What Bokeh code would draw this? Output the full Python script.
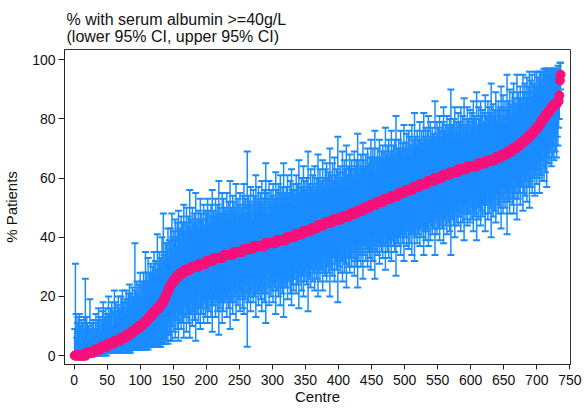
import numpy as np
from bokeh.plotting import figure
from bokeh.models import ColumnDataSource, Whisker, TeeHead, Range1d, FixedTicker, Title
from bokeh.embed import file_html
from bokeh.resources import INLINE

title_line1 = "% with serum albumin >=40g/L"
title_line2 = "(lower 95% CI, upper 95% CI)"
x_label = "Centre"
y_label = "% Patients"
x_ticks = [0, 50, 100, 150, 200, 250, 300, 350, 400, 450, 500, 550, 600, 650, 700, 750]
y_ticks = [0, 20, 40, 60, 80, 100]

# % of patients per centre (centres sorted by value)
pct = [
    0,0,0,0,0, 0,0,0,0,0, 0,0,0,0,0, 0,0,0,
    1,1,1,1,1, 1,1,1,1,1, 1,1,
    2,2,2,2,2, 2,2,2,2,2,
    3,3,3,3,3, 3,3,3,3,3,
    4,4,4,4,4, 4,4,4,4,4,
    5,5,5,5,5, 5,5,5,5,5,
    6,6,6,6,6, 6,6,6,
    7,7,7,7,7, 7,7,
    8,8,8,8,8, 8,
    9,9,9,9,9, 9,
    10,10,10,10,10, 10,
    11,11,11,11,11,
    12,12,12,12,
    13,13,13,13,
    14,14,14,14,
    15,15,15,15,
    16,16,16,16,16,
    17,17,17,
    18,18,18,
    19,19, 20,20, 21,21, 22,22, 23,23,
    24,24,24, 25,25,25,
    26,26,26,26,
    27,27,27,27,27,
    28,28,28,28,28, 28,
    29,29,29,29,29, 29,29,29,29,29,
    30,30,30,30,30, 30,30,30,30,30, 30,30,
    31,31,31,31,31, 31,31,31,31,31, 31,
    32,32,32,32,32, 32,32,32,32,32, 32,
    33,33,33,33,33, 33,33,33,33,33, 33,33,33,33,33,
    34,34,34,34,34, 34,34,34,34,34, 34,34,34,34,34,
    35,35,35,35,35, 35,35,35,35,35, 35,35,35,35,35,
    36,36,36,36,36, 36,36,36,36,36, 36,36,36,36,36,
    37,37,37,37,37, 37,37,37,37,37, 37,37,37,37,37, 37,37,37,
    38,38,38,38,38, 38,38,38,38,38, 38,38,38,38,38, 38,38,
    39,39,39,39,39, 39,39,39,39,39, 39,39,39,39,39,
    40,40,40,40,40, 40,40,40,40,40, 40,40,40,
    41,41,41,41,41, 41,41,41,41,41, 41,41,
    42,42,42,42,42, 42,42,42,42,42, 42,42,
    43,43,43,43,43, 43,43,43,43,43,
    44,44,44,44,44, 44,44,44,44,44, 44,
    45,45,45,45,45, 45,45,45,45,45, 45,45,
    46,46,46,46,46, 46,46,46,46,46, 46,46,46,46,
    47,47,47,47,47, 47,47,47,47,47, 47,47,
    48,48,48,48,48, 48,48,48,48,48, 48,
    49,49,49,49,49, 49,49,49,49,49,
    50,50,50,50,50, 50,50,50,50,50,
    51,51,51,51,51, 51,51,51,51,51,
    52,52,52,52,52, 52,52,52,52,52, 52,
    53,53,53,53,53, 53,53,53,53,53, 53,
    54,54,54,54,54, 54,54,54,54,54, 54,
    55,55,55,55,55, 55,55,55,55,55,
    56,56,56,56,56, 56,56,56,56,56, 56,56,
    57,57,57,57,57, 57,57,57,57,57,
    58,58,58,58,58, 58,58,58,58,58, 58,
    59,59,59,59,59, 59,59,59,59,59, 59,
    60,60,60,60,60, 60,60,60,60,60, 60,60,
    61,61,61,61,61, 61,61,61,61,61, 61,61,
    62,62,62,62,62, 62,62,62,62,62, 62,62,
    63,63,63,63,63, 63,63,63,63,63, 63,63,63,63,
    64,64,64,64,64, 64,64,64,64,64, 64,64,64,64,64, 64,
    65,65,65,65,65, 65,65,65,65,65, 65,65,65,
    66,66,66,66,66, 66,66,66,66,66, 66,66,66,
    67,67,67,67,67, 67,67,67,67,67,
    68,68,68,68,68, 68,68,68,68,
    69,69,69,69,69, 69,69,
    70,70,70,70,70, 70,70,
    71,71,71,71,71, 71,
    72,72,72,72,72,
    73,73,73,73,73,
    74,74,74,74,74,
    75,75,75,75, 76,76,76,76, 77,77,77,77,
    78,78,78, 79,79,79, 80,80,80, 81,81,81,
    82,82,82,82,
    83,83,83,
    84,84,84,84,
    85,85,85,85,85,
    86,86,86,
    88, 93, 95,
]

# length of each centre's CI bar above the point (upper 95% CI - %)
ci_up = [
    9,31,14,6,11, 13,8,14,10,5, 12,9,11,7,13, 8,26,6,12,10,
    7,9,5,18,8, 6,10,7,11,8, 5,9,12,7,6, 10,14,8,11,6,
    9,7,12,15,8, 10,6,13,9,11, 7,16,8,10,12, 9,14,6,11,8,
    17,10,13,9,7, 12,15,8,11,10, 14,9,16,7,12, 10,13,8,15,11,
    9,14,12,17,10, 13,8,15,11,12, 10,29,13,9,16, 12,11,14,10,18,
    13,9,15,12,17, 11,14,24,10,16, 13,21,12,15,11, 18,14,10,16,13,
    20,12,17,14,11, 25,15,13,19,12, 16,14,22,11,30, 15,13,18,12,17,
    14,21,11,16,13, 19,12,24,15,10, 17,13,20,14,11, 18,15,22,12,16,
    13,19,11,17,14, 23,12,16,10,21, 15,13,18,11,27, 14,16,12,20,15,
    11,18,14,25,13, 16,12,19,15,10, 22,14,17,12,15, 20,13,11,18,16,
    14,21,12,17,13, 10,19,15,24,12, 16,14,11,20,15, 13,18,12,26,14,
    17,11,15,22,13, 19,12,16,14,10, 21,15,13,18,12, 25,14,16,11,20,
    13,17,12,15,23, 14,10,18,16,12, 20,13,15,11,19, 14,22,12,17,15,
    11,33,14,18,12, 16,21,13,15,10, 19,14,17,12,24, 13,16,11,20,15,
    12,18,14,22,13, 16,11,19,15,27, 12,17,14,10,21, 15,13,18,12,16,
    20,13,15,11,24, 14,17,12,19,16, 13,22,11,15,18, 12,26,14,16,13,
    17,11,21,14,15, 12,19,13,23,16, 10,18,14,15,12, 20,13,17,11,25,
    14,16,12,19,13, 15,22,11,17,14, 13,18,12,27,15, 16,11,20,14,13,
    18,12,15,21,14, 11,17,13,24,16, 12,19,14,15,11, 22,13,16,12,18,
    14,20,11,15,17, 13,25,12,16,14, 19,13,11,21,15, 12,17,14,28,13,
    16,12,18,14,11, 22,15,13,19,12, 16,24,14,11,17, 13,20,15,12,18,
    13,15,11,21,16, 12,18,14,26,13, 17,11,15,19,12, 14,23,16,13,10,
    18,14,12,20,15, 13,17,11,22,16, 12,19,14,15,25, 11,16,13,18,14,
    12,21,15,13,17, 11,19,14,16,12, 24,13,15,18,11, 20,14,12,16,22,
    15,13,17,11,19, 14,27,12,16,13, 18,15,11,21,14, 12,17,13,23,15,
    11,16,19,13,14, 20,12,18,15,11, 22,14,16,13,25, 12,17,14,19,12,
    16,13,21,15,11, 18,14,12,24,16, 13,19,15,11,17, 22,13,14,20,12,
    15,18,11,16,13, 26,14,12,19,15, 17,11,21,13,16, 14,18,12,23,15,
    13,17,11,20,14, 16,12,19,15,28, 13,16,11,18,14, 22,12,15,17,13,
    19,12,16,14,21, 11,15,18,13,24, 14,12,17,15,20, 13,16,11,19,14,
    12,18,15,22,13, 17,11,16,25,14, 12,19,15,13,21, 16,11,18,14,12,
    17,23,13,15,11, 20,14,18,12,16, 26,13,15,19,11, 17,14,22,12,16,
    14,19,11,17,13, 24,15,12,20,16, 13,18,11,15,27, 14,17,12,21,13,
    16,12,19,14,22, 11,17,15,13,24, 14,18,12,16,20, 13,15,11,23,17,
    12,19,14,16,21, 13,17,11,22,15, 18,12,20,14,16, 13,20,15,11,19,
    14,17,12,18,15, 17,13,17,11,16, 17,14,16,12,15, 15,15,13,14,14,
    12,13,12,13,11, 12,10,12,11,12, 11,12,9,8,6, 4,
]

# length of each centre's CI bar below the point (% - lower 95% CI)
ci_down = [
    0,0,0,0,0, 0,0,0,0,0, 0,0,0,0,0, 0,0,0,1,1,
    1,1,1,1,1, 1,1,1,1,1, 2,1,2,1,2, 1,2,1,2,1,
    2,2,3,2,2, 3,2,2,3,2, 3,3,2,3,3, 3,2,3,3,3,
    4,4,4,4,4, 4,4,4,4,4, 5,5,5,5,5, 5,5,5,6,6,
    6,6,6,6,6, 6,6,6,6,6, 6,7,7,7,7, 7,7,8,8,8,
    7,6,8,8,9, 7,9,9,8,10, 9,10,10,8,10, 9,11,8,11,10,
    12,11,12,11,11, 13,13,12,13,12, 14,13,14,11,14, 15,13,16,12,16,
    14,18,11,16,13, 19,12,19,15,10, 17,13,20,14,11, 18,15,22,12,16,
    13,19,11,17,14, 22,12,16,10,21, 15,13,18,11,23, 14,16,12,20,15,
    11,18,14,25,13, 16,12,19,15,10, 22,14,17,12,15, 20,13,11,18,16,
    14,21,12,17,13, 10,19,15,24,12, 16,14,11,20,15, 13,18,12,26,14,
    17,11,15,22,13, 19,12,16,14,10, 21,15,13,18,12, 25,14,16,11,20,
    13,17,12,15,23, 14,10,18,16,12, 20,13,15,11,19, 14,22,12,17,15,
    11,33,14,18,12, 16,21,13,15,10, 19,14,17,12,24, 13,16,11,20,15,
    12,18,14,22,13, 16,11,19,15,27, 12,17,14,10,21, 15,13,18,12,16,
    20,13,15,11,24, 14,17,12,19,16, 13,22,11,15,18, 12,26,14,16,13,
    17,11,21,14,15, 12,19,13,23,16, 10,18,14,15,12, 20,13,17,11,25,
    14,16,12,19,13, 15,22,11,17,14, 13,18,12,27,15, 16,11,20,14,13,
    18,12,15,21,14, 11,17,13,24,16, 12,19,14,15,11, 22,13,16,12,18,
    14,20,11,15,17, 13,25,12,16,14, 19,13,11,21,15, 12,17,14,28,13,
    16,12,18,14,11, 22,15,13,19,12, 16,24,14,11,17, 13,20,15,12,18,
    13,15,11,21,16, 12,18,14,26,13, 17,11,15,19,12, 14,23,16,13,10,
    18,14,12,20,15, 13,17,11,22,16, 12,19,14,15,25, 11,16,13,18,14,
    12,21,15,13,17, 11,19,14,16,12, 24,13,15,18,11, 20,14,12,16,22,
    15,13,17,11,19, 14,27,12,16,13, 18,15,11,21,14, 12,17,13,23,15,
    11,16,19,13,14, 20,12,18,15,11, 22,14,16,13,25, 12,17,14,19,12,
    16,13,21,15,11, 18,14,12,24,16, 13,19,15,11,17, 22,13,14,20,12,
    15,18,11,16,13, 26,14,12,19,15, 17,11,21,13,16, 14,18,12,23,15,
    13,17,11,20,14, 16,12,19,15,28, 13,16,11,18,14, 22,12,15,17,13,
    19,12,16,14,21, 11,15,18,13,24, 14,12,17,15,20, 13,16,11,19,14,
    12,18,15,22,13, 17,11,16,25,14, 12,19,15,13,21, 16,11,18,14,12,
    17,23,13,15,11, 20,14,18,12,16, 26,13,15,19,11, 17,14,22,12,16,
    14,19,11,17,13, 24,15,12,20,16, 13,18,11,15,27, 14,17,12,21,13,
    16,12,19,14,22, 11,17,15,13,25, 14,18,12,16,20, 13,15,11,23,17,
    12,19,14,16,21, 13,17,11,24,15, 18,12,20,14,16, 13,22,15,11,19,
    14,17,12,23,15, 18,13,20,11,16, 21,14,19,12,25, 15,17,13,18,14,
    12,20,15,17,13, 19,11,16,14,18, 12,15,9,8,6, 5,
]

n = min(len(pct), len(ci_up), len(ci_down))
pct_a = np.array(pct[:n], dtype=float)
centre = np.arange(1, n + 1)
lower = np.clip(pct_a - np.array(ci_down[:n], dtype=float), 0, 100)
upper = np.clip(pct_a + np.array(ci_up[:n], dtype=float), 0, 100)

src = ColumnDataSource(dict(centre=centre, pct=pct_a, lower=lower, upper=upper))

FONT = "Liberation Sans"
BLUE = "#1A8CFF"
PINK = "#F5127A"
TXT = "#111111"

p = figure(width=584, height=409, output_backend="svg", toolbar_location=None,
           title=None,
           x_range=Range1d(-14.5, 751), y_range=Range1d(-3.04, 103.5),
           min_border_left=63, min_border_right=14, min_border_bottom=45, min_border_top=49)

p.add_layout(Title(text=title_line1 + "\n" + title_line2, align="left", offset=2,
                   text_font=FONT, text_font_size="16px", text_font_style="normal",
                   text_color=TXT, text_line_height=1.05, standoff=8), "above")

p.xgrid.visible = False
p.ygrid.visible = False
p.outline_line_color = "#333333"
p.outline_line_width = 1
p.background_fill_color = "white"
p.border_fill_color = "white"

whisk = Whisker(source=src, base="centre", upper="upper", lower="lower",
                line_color=BLUE, line_width=1.5, level="underlay",
                upper_head=TeeHead(size=7, line_color=BLUE, line_width=2),
                lower_head=TeeHead(size=7, line_color=BLUE, line_width=2))
p.add_layout(whisk)

p.scatter("centre", "pct", source=src, size=9, fill_color=PINK, line_color=PINK)

p.xaxis.ticker = FixedTicker(ticks=x_ticks)
p.yaxis.ticker = FixedTicker(ticks=y_ticks)
p.xaxis.axis_label = x_label
p.yaxis.axis_label = y_label

for ax in (p.xaxis[0], p.yaxis[0]):
    ax.axis_line_color = "#222222"
    ax.axis_line_width = 1
    ax.major_tick_line_color = "#222222"
    ax.major_tick_in = 0
    ax.minor_tick_line_color = None
    ax.major_label_text_font = FONT
    ax.major_label_text_font_size = "14px"
    ax.major_label_text_color = TXT
    ax.axis_label_text_font = FONT
    ax.axis_label_text_font_size = "15px"
    ax.axis_label_text_font_style = "normal"
    ax.axis_label_text_color = TXT

p.xaxis.major_tick_out = 5
p.xaxis.major_label_standoff = 5
p.xaxis.axis_label_standoff = 0
p.yaxis.major_tick_out = 6
p.yaxis.major_label_standoff = 3
p.yaxis.axis_label_standoff = 9

open("out.html", "w").write(file_html(p, INLINE))
